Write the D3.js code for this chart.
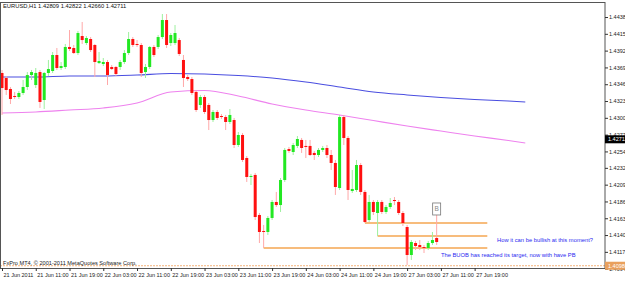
<!DOCTYPE html>
<html>
<head>
<meta charset="utf-8">
<script src="https://cdn.jsdelivr.net/npm/d3@7"></script>
<style>
  body { margin: 0; background: #fff; }
  svg { display: block; }
</style>
</head>
<body>
<script>

// EURUSD H1 bars, index 0 = 21 Jun 03:00
const opens  = [1.43619,1.43550,1.43400,1.43304,1.43290,1.43345,1.43427,1.43591,1.43454,1.43632,
                1.43249,1.43619,1.43646,1.43865,1.43687,1.43701,1.43975,1.43961,1.43892,1.44125,
                1.44029,1.44084,1.44002,1.43755,1.43742,1.43769,1.43701,1.43701,1.43701,1.43769,
                1.43892,1.44084,1.44016,1.44002,1.43632,1.43701,1.43975,1.43975,1.44111,1.44344,
                1.44029,1.44029,1.44070,1.43797,1.43564,1.43536,1.43359,1.43181,1.43290,1.43181,
                1.42975,1.43085,1.43030,1.43016,1.42948,1.42975,1.42633,1.42770,1.42455,1.42195,
                1.42223,1.41675,1.41456,1.41442,1.41634,1.41853,1.41811,1.42154,1.42578,1.42537,
                1.42620,1.42702,1.42620,1.42620,1.42524,1.42496,1.42565,1.42592,1.42496,1.42387,
                1.42044,1.43016,1.42729,1.42003,1.42017,1.42359,1.41990,1.41606,1.41853,1.41702,
                1.41853,1.41716,1.41784,1.41880,1.41853,1.41702,1.41510,1.41127,1.41291,1.41264,
                1.41236,1.41223,1.41291,1.41360]
const highs  = [1.43660,1.43578,1.43427,1.43359,1.43372,1.43523,1.43632,1.43660,1.43687,1.43660,
                1.43632,1.43797,1.43906,1.43961,1.43769,1.44016,1.44207,1.44002,1.44194,1.44317,
                1.44125,1.44111,1.44016,1.43906,1.43824,1.43797,1.43728,1.43714,1.43797,1.43933,
                1.44180,1.44111,1.44070,1.44029,1.43742,1.43988,1.44002,1.44139,1.44426,1.44426,
                1.44166,1.44276,1.44098,1.43865,1.43591,1.43564,1.43386,1.43318,1.43318,1.43208,
                1.43112,1.43112,1.43057,1.43044,1.43126,1.43003,1.42811,1.42797,1.42482,1.42237,
                1.42250,1.41702,1.41538,1.41661,1.41880,1.41990,1.42181,1.42592,1.42606,1.42661,
                1.42756,1.42729,1.42702,1.42702,1.42551,1.42592,1.42620,1.42633,1.42565,1.42428,
                1.43044,1.43044,1.42756,1.42291,1.42428,1.42387,1.42017,1.41949,1.41880,1.41880,
                1.41880,1.41811,1.41907,1.41921,1.41880,1.41729,1.41538,1.41332,1.41319,1.41332,
                1.41264,1.41319,1.41442,1.41675]
const lows   = [1.43044,1.43318,1.43194,1.43263,1.43263,1.43318,1.43386,1.43523,1.43413,1.43140,
                1.43126,1.43578,1.43619,1.43660,1.43660,1.43673,1.43920,1.43879,1.43865,1.44016,
                1.44002,1.43906,1.43564,1.43742,1.43714,1.43454,1.43660,1.43578,1.43660,1.43742,
                1.43865,1.43975,1.43975,1.43564,1.43550,1.43673,1.43838,1.43947,1.44084,1.43961,
                1.43988,1.44002,1.43851,1.43427,1.43509,1.43318,1.43085,1.43140,1.43057,1.42838,
                1.42948,1.42975,1.42989,1.42838,1.42920,1.42592,1.42606,1.42400,1.42127,1.42085,
                1.41606,1.41291,1.41223,1.41401,1.41606,1.41784,1.41716,1.42127,1.42524,1.42496,
                1.42592,1.42524,1.42455,1.42482,1.42428,1.42469,1.42537,1.42455,1.42291,1.41949,
                1.42017,1.42633,1.41880,1.41976,1.41990,1.41949,1.41565,1.41579,1.41675,1.41387,
                1.41688,1.41688,1.41757,1.41811,1.41675,1.41524,1.40990,1.41059,1.41195,1.41195,
                1.41154,1.41195,1.41264,1.41264]
const closes = [1.43413,1.43386,1.43263,1.43290,1.43345,1.43427,1.43591,1.43632,1.43619,1.43222,
                1.43619,1.43673,1.43865,1.43687,1.43714,1.43975,1.43947,1.43892,1.44166,1.44070,
                1.44098,1.43933,1.43769,1.43783,1.43769,1.43591,1.43673,1.43605,1.43769,1.43892,
                1.44084,1.44002,1.44002,1.43619,1.43701,1.43975,1.43865,1.44111,1.44344,1.44002,
                1.44139,1.44166,1.43879,1.43550,1.43536,1.43345,1.43112,1.43290,1.43085,1.42975,
                1.43085,1.43003,1.43016,1.42948,1.43044,1.42633,1.42770,1.42428,1.42195,1.42209,
                1.41647,1.41442,1.41442,1.41634,1.41853,1.41811,1.42154,1.42565,1.42551,1.42633,
                1.42715,1.42592,1.42606,1.42496,1.42496,1.42565,1.42592,1.42496,1.42387,1.42058,
                1.43016,1.42729,1.42017,1.42031,1.42359,1.41990,1.41579,1.41853,1.41716,1.41853,
                1.41716,1.41784,1.41839,1.41866,1.41702,1.41565,1.41127,1.41305,1.41250,1.41236,
                1.41223,1.41291,1.41332,1.41305]

// shifted moving averages, read every 8 bars
const maBars  = [0,8,16,24,32,40,48,56,64,72,80,88,96,104,112,120,124]
const maBlue  = [1.43564,1.43564,1.43578,1.43578,1.43591,1.43612,1.43605,1.43584,1.43550,1.43495,
                 1.43427,1.43359,1.43318,1.43283,1.43256,1.43235,1.43222]
const maPink  = [1.43071,1.43085,1.43112,1.43140,1.43208,1.43359,1.43379,1.43304,1.43194,1.43112,
                 1.43044,1.42968,1.42893,1.42824,1.42756,1.42694,1.42660]

// time axis
const timeTicks  = [0,8,16,24,32,40,48,56,64,72,80,88,96,104,112]
const timeLabels = ["21 Jun 2011","21 Jun 11:00","21 Jun 19:00","22 Jun 03:00","22 Jun 11:00",
                    "22 Jun 19:00","23 Jun 03:00","23 Jun 11:00","23 Jun 19:00","24 Jun 03:00",
                    "24 Jun 11:00","24 Jun 19:00","27 Jun 03:00","27 Jun 11:00","27 Jun 19:00"]

// price axis
const priceTicks = [1.44385,1.44155,1.43925,1.43695,1.43465,1.43235,1.43005,1.42775,
                    1.42545,1.42320,1.42090,1.41860,1.41630,1.41400,1.41170,1.40940]
const bidPrice = 1.42711
const hlinePrice = 1.40980

// trend lines drawn on the chart
const levelFrom  = [62, 86, 89]
const levelTo    = [115, 115, 115]
const levelPrice = [1.41223, 1.41565, 1.41387]

const notes = [
  { bar: 117.3, price: 1.41305, text: "How it can be bullish at this moment?" },
  { bar: 104,   price: 1.41100, text: "The BUOB has reached its target, now with have PB" }
]

const header = "EURUSD,H1  1.42809 1.42822 1.42660 1.42711"
const footer = "FxPro MT4, \u00a9 2001-2011 MetaQuotes Software Corp."

const width = 625, height = 281
const plotRight = 605, plotTop = 2, plotBottom = 268

const x = d3.scaleLinear().domain([0, 143]).range([2, 2 + 143 * 4.22])
const y = d3.scaleLinear().domain([1.40949, 1.44577]).range([plotBottom, 3])

const svg = d3.select("body").append("svg")
  .attr("width", width)
  .attr("height", height)
  .style("font-family", "'Liberation Sans', Arial, sans-serif")

svg.append("defs").append("clipPath").attr("id", "plotClip")
  .append("rect").attr("x", 0).attr("y", plotTop).attr("width", plotRight).attr("height", plotBottom - plotTop)

const g = svg.append("g").attr("clip-path", "url(#plotClip)")

// dotted horizontal line
g.append("line")
  .attr("x1", 0).attr("x2", plotRight)
  .attr("y1", y(hlinePrice)).attr("y2", y(hlinePrice))
  .attr("stroke", "#f3b27a").attr("stroke-width", 1)
  .attr("stroke-dasharray", "2,1")

// moving averages
const maLine = vals => d3.line()
  .x((d, i) => x(maBars[i]))
  .y(d => y(d))
  .curve(d3.curveMonotoneX)(vals)

g.append("path").attr("d", maLine(maBlue))
  .attr("fill", "none").attr("stroke", "#4a4ee0").attr("stroke-width", 1.1)
g.append("path").attr("d", maLine(maPink))
  .attr("fill", "none").attr("stroke", "#ee82ee").attr("stroke-width", 1.1)

// level lines
levelPrice.forEach((p, k) => {
  g.append("line")
    .attr("x1", x(levelFrom[k])).attr("x2", x(levelTo[k]))
    .attr("y1", y(p)).attr("y2", y(p))
    .attr("stroke", "#f4a650").attr("stroke-width", 1.3)
})

// candles
const bars = opens.map((o, i) => ({ i, o, h: highs[i], l: lows[i], c: closes[i] }))

const candle = g.selectAll(".candle").data(bars).enter().append("g").attr("class", "candle")

candle.append("line")
  .attr("x1", d => x(d.i)).attr("x2", d => x(d.i))
  .attr("y1", d => y(d.h)).attr("y2", d => y(d.l))
  .attr("stroke", d => d.c >= d.o ? "#9ef09e" : "#ffa8a8")
  .attr("stroke-width", 1)

candle.append("rect")
  .attr("x", d => x(d.i) - 1.5)
  .attr("width", 3)
  .attr("y", d => y(Math.max(d.o, d.c)))
  .attr("height", d => Math.max(1, Math.abs(y(d.o) - y(d.c))))
  .attr("fill", d => d.c >= d.o ? "#22e822" : "#ff1010")

// small label box above last bar
const lastBar = bars[bars.length - 1]
const boxY = y(1.41757)
g.append("rect")
  .attr("x", x(lastBar.i) - 4).attr("y", boxY - 6)
  .attr("width", 8).attr("height", 12)
  .attr("fill", "#fff").attr("stroke", "#777").attr("stroke-width", 0.8)
g.append("text")
  .attr("x", x(lastBar.i)).attr("y", boxY + 2.5)
  .attr("text-anchor", "middle").attr("font-size", 6.5).attr("fill", "#888")
  .text("B")

// notes
g.selectAll(".note").data(notes).enter().append("text")
  .attr("x", d => x(d.bar)).attr("y", d => y(d.price))
  .attr("font-size", 5.8).attr("fill", "#2a2af0")
  .text(d => d.text)

// header + footer
svg.append("text").attr("x", 3).attr("y", 8).attr("font-size", 5.8).attr("fill", "#111").text(header)
svg.append("text").attr("x", 3).attr("y", 265).attr("font-size", 5.6).attr("fill", "#222").text(footer)

// frame
svg.append("rect")
  .attr("x", 0.5).attr("y", plotTop + 0.5)
  .attr("width", plotRight - 0.5).attr("height", plotBottom - plotTop)
  .attr("fill", "none").attr("stroke", "#555").attr("stroke-width", 1)

// bottom axis
const xAxis = svg.append("g")
  .attr("transform", `translate(0,${plotBottom})`)
  .call(d3.axisBottom(x)
    .tickValues(timeTicks)
    .tickFormat((d, i) => timeLabels[i])
    .tickSize(3)
    .tickSizeOuter(0))
xAxis.select(".domain").remove()
xAxis.selectAll("line").attr("stroke", "#333")
xAxis.selectAll("text")
  .attr("text-anchor", "start")
  .attr("dx", "1")
  .attr("y", 5)
  .attr("font-size", 5.5)
  .attr("fill", "#222")
  .attr("font-family", "'Liberation Sans', Arial, sans-serif")

// right axis
const yAxis = svg.append("g")
  .attr("transform", `translate(${plotRight},0)`)
  .call(d3.axisRight(y)
    .tickValues(priceTicks)
    .tickFormat(d3.format(".5f"))
    .tickSize(3)
    .tickPadding(1))
yAxis.select(".domain").remove()
yAxis.selectAll("line").attr("stroke", "#333")
yAxis.selectAll("text")
  .attr("font-size", 5.5)
  .attr("fill", "#222")
  .attr("font-family", "'Liberation Sans', Arial, sans-serif")

// price boxes
const priceBox = (p, bg, fg) => {
  svg.append("rect").attr("x", plotRight).attr("y", y(p) - 4)
    .attr("width", width - plotRight).attr("height", 8).attr("fill", bg)
  svg.append("text").attr("x", plotRight + 3).attr("y", y(p) + 2)
    .attr("font-size", 5.5).attr("fill", fg).text(d3.format(".5f")(p))
}
priceBox(bidPrice, "#000", "#fff")
priceBox(hlinePrice, "#e9a05c", "#fff")

</script>
</body>
</html>
